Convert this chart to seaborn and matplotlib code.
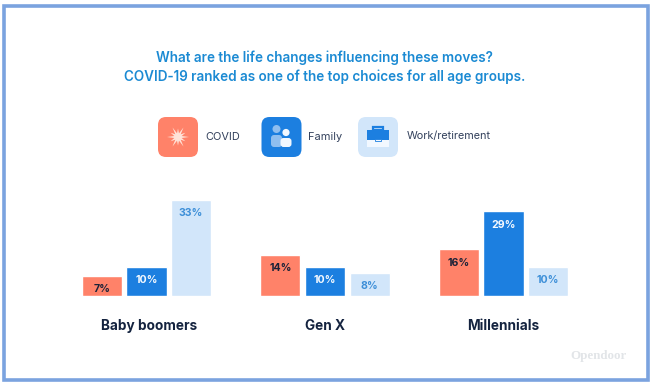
import matplotlib
matplotlib.use("Agg")
import matplotlib.pyplot as plt
import numpy as np
import pandas as pd
import seaborn as sns
from matplotlib.patches import FancyBboxPatch, Rectangle, Circle, Polygon
from matplotlib.transforms import ScaledTranslation

W, H = 654, 387
groups = ["Baby boomers", "Gen X", "Millennials"]
reasons = ["COVID", "Family", "Work/retirement"]
covid = [7, 14, 16]
family = [10, 10, 29]
work = [33, 8, 10]
colors = ["#FF8269", "#1C7FE0", "#D2E6FA"]
label_colors = ["#1B2238", "#F4F9FF", "#3D8FD8"]
title_lines = ["What are the life changes influencing these moves?",
               "COVID-19 ranked as one of the top choices for all age groups."]

df = pd.DataFrame({"group": groups * 3,
                   "reason": np.repeat(reasons, 3),
                   "value": covid + family + work})

sns.set_theme(style="white")
plt.rcParams["font.family"] = ["Inter", "DejaVu Sans"]
fig = plt.figure(figsize=(W / 100, H / 100), dpi=100, facecolor="white")

# overlay in pixel coordinates for frame, header and legend icons
bg = fig.add_axes([0, 0, 1, 1])
bg.set_xlim(0, W); bg.set_ylim(H, 0); bg.axis("off")
bg.add_patch(Rectangle((3.5, 5.5), 644, 374, fill=False, ec="#7BA3DF", lw=2.6))

for i, line in enumerate(title_lines):
    bg.text(324.5, 57.5 + i * 19, line, ha="center", va="center", fontsize=9.72,
            fontweight="semibold", color="#1B8AD3")

def tile(x, c):
    bg.add_patch(FancyBboxPatch((x, 117), 40, 40, boxstyle="round,pad=0,rounding_size=8",
                                fc=c, ec="none"))

tile(158, colors[0]); tile(261.5, colors[1]); tile(358, colors[2])

# COVID burst
cx, cy = 178, 137
angles = np.arange(24) * np.pi / 12
radii = np.where(np.arange(24) % 2 == 0, 11, 3.8)
radii[2::4] = 8.5
bg.add_patch(Polygon(np.c_[cx + radii * np.cos(angles), cy + radii * np.sin(angles)],
                     fc="#FFE3D8", ec="none"))
# Family figures
bg.add_patch(Circle((276.5, 129), 4, fc="#8FBEEF", ec="none"))
bg.add_patch(FancyBboxPatch((271, 135), 11, 12, boxstyle="round,pad=0,rounding_size=3",
                            fc="#8FBEEF", ec="none"))
bg.add_patch(Circle((286, 132.5), 3.6, fc="#F2F8FF", ec="none"))
bg.add_patch(FancyBboxPatch((280.5, 138), 11, 9, boxstyle="round,pad=0,rounding_size=3",
                            fc="#F2F8FF", ec="none"))
# Briefcase
bg.add_patch(Rectangle((366.5, 130), 22.5, 10, fc="#1C7FE0", ec="none"))
bg.add_patch(Rectangle((366.5, 140), 22.5, 6.5, fc="#F2F8FF", ec="none"))
bg.add_patch(Rectangle((373, 127), 9.5, 3, fc="none", ec="#1C7FE0", lw=1.6))
bg.add_patch(Rectangle((374.5, 139), 6, 2.2, fc="#F2F8FF", ec="#1C7FE0", lw=0.6))

for x, name, fs in zip([205, 308, 406.5], reasons, [7.9, 7.9, 7.85]):
    bg.text(x, 136.5, name, ha="left", va="center", fontsize=fs, color="#33415C")

bg.text(627, 356.5, "Opendoor", ha="right", va="center", fontsize=9.4, fontweight="bold",
        family="Liberation Serif", color="#E2E5E8")

# Bars
base_px, top_px = 296, 190
px_per_unit = 2.92
ax = fig.add_axes([0, 1 - base_px / H, 1, (base_px - top_px) / H])
ax.patch.set_alpha(0)
sns.barplot(data=df, x="group", y="value", hue="reason", order=groups, hue_order=reasons,
            palette=colors, width=0.75, gap=0.1, saturation=1, legend=False, errorbar=None, ax=ax)
span = 178.5
ax.set_xlim(-146.5 / span, (W - 146.5) / span)
ax.set_ylim(0, (base_px - top_px) / px_per_unit)
for cont, c in zip(ax.containers, label_colors):
    ax.bar_label(cont, labels=[f"{v:.0f}%" for v in cont.datavalues], label_type="edge",
                 padding=-13.2, fontsize=7.6, fontweight="bold", color=c)
sns.despine(ax=ax, left=True, bottom=True)
ax.set_yticks([])
ax.set_xlabel(""); ax.set_ylabel("")
ax.tick_params(axis="x", length=0, pad=16.4)
ax.set_xticks(range(3), groups, fontsize=9.8, fontweight="bold", color="#14233F")
first = ax.get_xticklabels()[0]
first.set_transform(first.get_transform() + ScaledTranslation(3 / 100, 0, fig.dpi_scale_trans))

fig.savefig("out.png", dpi=100, facecolor="white")
